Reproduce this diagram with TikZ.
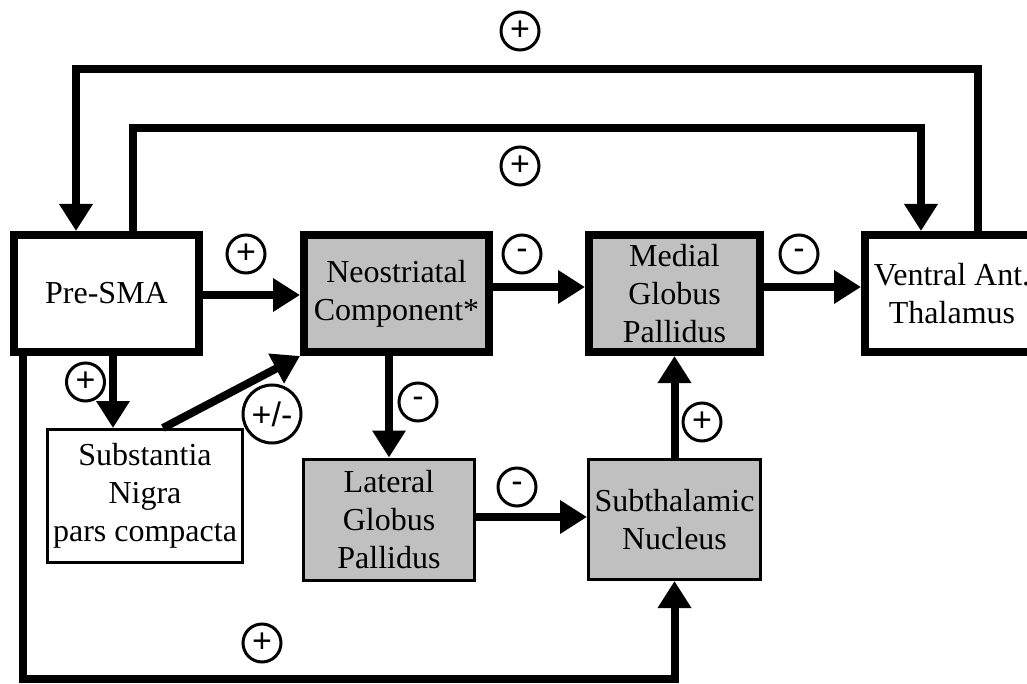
\documentclass[tikz,border=0pt]{standalone}
\usepackage{fontspec}
\setmainfont{Liberation Serif}
\newfontfamily\signfont{Liberation Sans}
\usetikzlibrary{arrows.meta,calc}
\definecolor{boxgray}{RGB}{192,192,192}
\begin{document}
\begin{tikzpicture}[x=1pt,y=-1pt,
  box/.style={draw,line width=8pt,align=center,inner sep=0pt,minimum height=117pt,
    font=\fontsize{32}{38}\selectfont},
  thinbox/.style={draw,line width=3pt,align=center,inner sep=0pt,
    font=\fontsize{32}{38}\selectfont},
  conn/.style={line width=8pt,-{Triangle[length=27pt,width=32pt]}},
  plain/.style={line width=8pt},
  sign/.style={circle,draw,line width=3pt,minimum size=38pt,inner sep=0pt,
    font=\fontsize{34}{40}\signfont}
]
\useasboundingbox (0,0) rectangle (1027,684);
\clip (0,0) rectangle (1027,684);

% boxes
\node[box,fill=white,minimum width=185pt] (pre) at (106.5,293.5) {Pre-SMA};
\node[box,fill=boxgray,minimum width=185pt] (neo) at (396.5,293.5) {Neostriatal\\Component*};
\node[box,fill=boxgray,minimum width=171pt] (med) at (674.5,293.5) {Medial\\Globus\\Pallidus};
\node[box,fill=white,minimum width=174pt] (ven) at (952,293.5) {Ventral Ant.\\Thalamus};
\node[thinbox,fill=white,minimum width=195pt,minimum height=133pt] (sn) at (145,496) {Substantia\\Nigra\\pars compacta};
\node[thinbox,fill=boxgray,minimum width=171pt,minimum height=121pt] (lat) at (389,519.5) {Lateral\\Globus\\Pallidus};
\node[thinbox,fill=boxgray,minimum width=172pt,minimum height=120pt] (sub) at (674.5,519.5) {Subthalamic\\Nucleus};

% helper coordinates
\coordinate (ya) at (0,295);
\coordinate (yb) at (0,287);
\coordinate (yc) at (0,517);
\coordinate (x113) at (113,0);
\coordinate (x163) at (163,0);
\coordinate (ox) at (978,0);
\coordinate (ix) at (921,0);
\coordinate (px1) at (76,0);
\coordinate (px2) at (133,0);
\coordinate (bx) at (22.5,0);
\coordinate (top1) at (0,69);
\coordinate (top2) at (0,128);
\coordinate (bot) at (0,679);

% connectors
\draw[conn] (pre.east |- ya) -- (neo.west |- ya);
\draw[conn] (neo.east |- yb) -- (med.west |- yb);
\draw[conn] (med.east |- yb) -- (ven.west |- yb);
\draw[conn] (neo.south -| lat.north) -- (lat.north);
\draw[conn] (lat.east |- yc) -- (sub.west |- yc);
\draw[conn] (sub.north) -- (med.south);
\draw[conn] (pre.south -| x113) -- (sn.north -| x113);
\draw[conn] (sn.north -| x163) -- (neo.south west);
\draw[conn] (ven.north -| ox) -- (ox |- top1) -- (px1 |- top1) -- (pre.north -| px1);
\draw[conn] (pre.north -| px2) -- (px2 |- top2) -- (ix |- top2) -- (ven.north -| ix);
\draw[conn] (pre.south -| bx) -- (bx |- bot) -- (sub.south |- bot) -- (sub.south);

% signs
\node[sign] (s1) at (520,31) {+};
\node[sign] (s2) at (520,166) {+};
\node[sign] (s3) at (246,254) {+};
\node[sign] (s4) at (522,254) {-};
\node[sign] (s5) at (799,254) {-};
\node[sign] (s6) at (85.5,382) {+};
\node[sign] (s7) at (418,402) {-};
\node[sign] (s8) at (517,487) {-};
\node[sign] (s9) at (702,422) {+};
\node[sign,minimum size=58pt] (s10) at (272,414) {+/-};
\node[sign] (s11) at (262,643) {+};
\end{tikzpicture}
\end{document}
